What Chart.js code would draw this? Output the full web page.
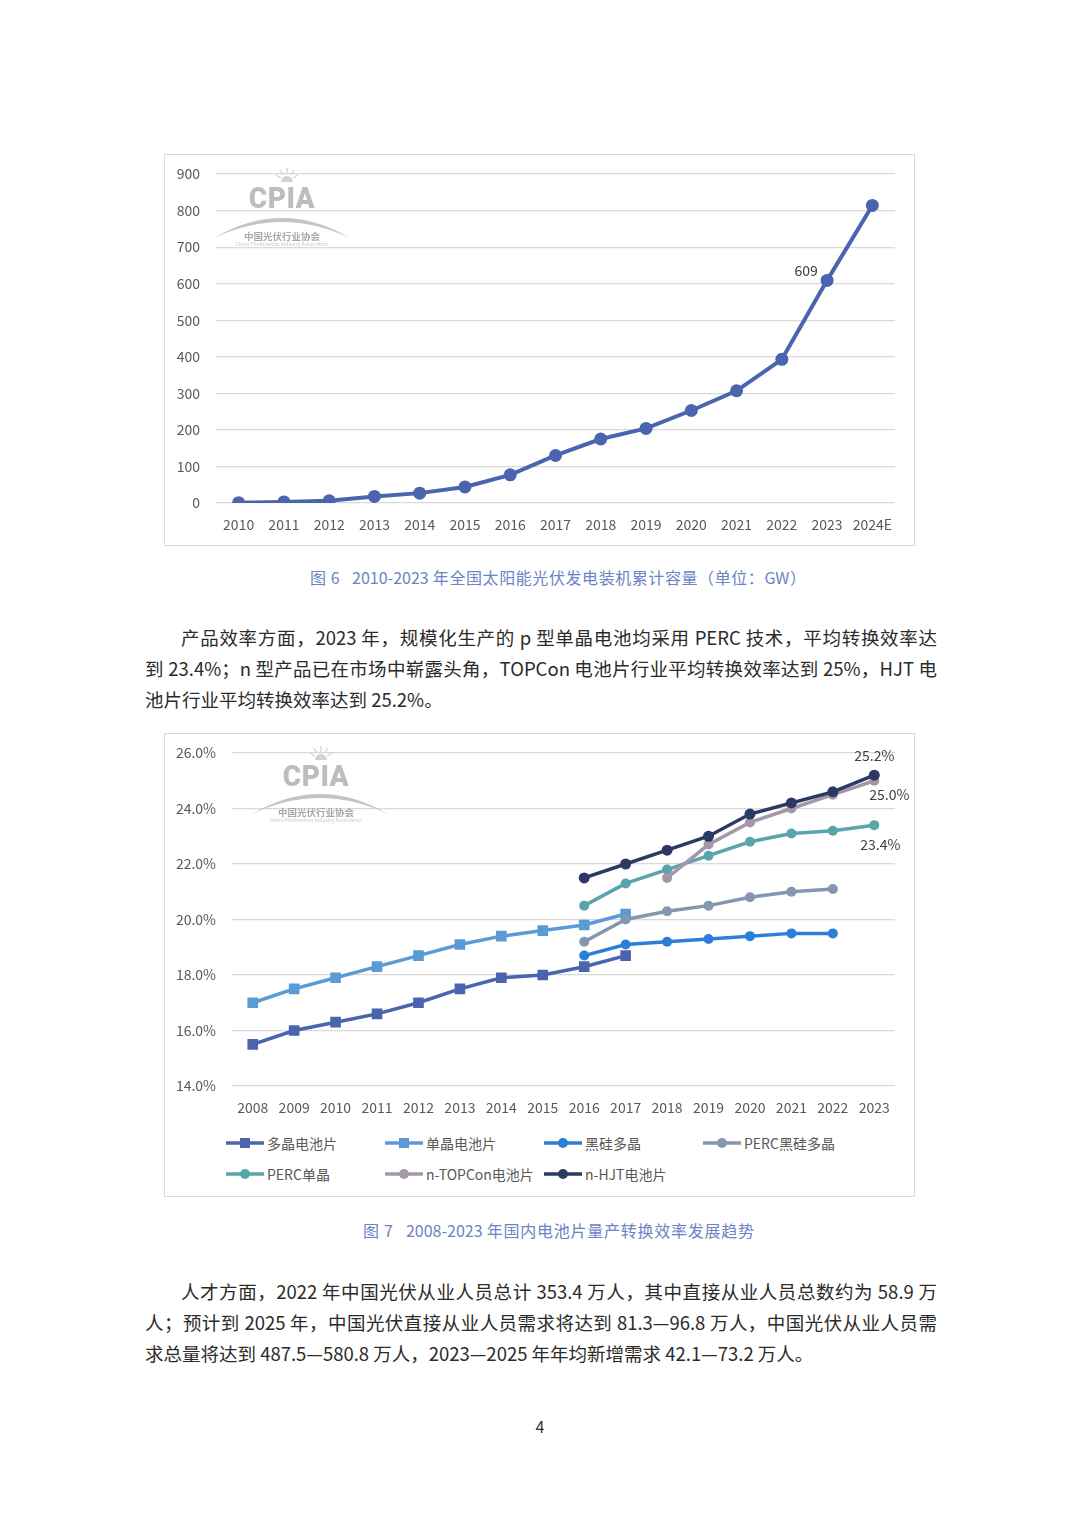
<!DOCTYPE html>
<html><head><meta charset="utf-8">
<script src="https://cdn.jsdelivr.net/npm/chart.js@4"></script>
<style>
body{margin:0;background:#fff;}
#page{position:relative;width:1080px;height:1528px;background:#fff;font-family:"Noto Sans CJK SC","Noto Sans",sans-serif;overflow:hidden}
.box{position:absolute;border:1px solid #d9d9d9;box-sizing:border-box}
.cv{position:absolute}
.cap{position:absolute;font-size:16px;color:#6a84c4;white-space:nowrap;line-height:24px;height:24px;text-align:justify;text-align-last:justify}
.line{position:absolute;font-size:18.5px;color:#2b2b2b;white-space:nowrap;line-height:31px;height:31px}
.j{text-align:justify;text-align-last:justify}
.wm{position:absolute;width:0;height:0}
.wm .t{position:absolute;left:-70px;width:140px;top:-17px;line-height:34px;text-align:center;font:900 28px Roboto,sans-serif;color:#bdbdbd;letter-spacing:0.5px;transform:scaleY(1.08)}
.wm .cn{position:absolute;left:-60px;width:120px;top:32px;line-height:12px;text-align:center;font-weight:bold;font-size:9.5px;color:#a8a8a8}
.wm .en{position:absolute;left:-60px;width:120px;top:43px;line-height:6px;text-align:center;font-size:5px;color:#c8c8c8}
.wm svg{position:absolute;overflow:visible}
#legend{position:absolute;left:226px;top:1127px;display:grid;grid-template-columns:159px 159px 159px 159px;grid-auto-rows:31px}
#legend .it{display:flex;align-items:center;font-size:14px;color:#595959;white-space:nowrap}
#legend svg{margin-right:3px;flex:none}
</style>
</head><body>
<div id="page">
  <div class="box" style="left:164px;top:154px;width:751px;height:392px"></div>
  <div class="cv" style="left:164px;top:154px;width:751px;height:392px"><canvas id="c1" width="751" height="392" style="width:751px;height:392px"></canvas></div>
  <div class="wm" style="left:282px;top:198px">
    <svg style="left:-6px;top:-30px" width="22" height="14" viewBox="0 0 22 14"><path d="M5 14 A6 6 0 0 1 17 14 Z" fill="#d2d2d2"/><g stroke="#d2d2d2" stroke-width="1.2"><line x1="11" y1="6" x2="11" y2="0"/><line x1="7" y1="7" x2="4" y2="2"/><line x1="15" y1="7" x2="18" y2="2"/><line x1="5" y1="10" x2="0" y2="7"/><line x1="17" y1="10" x2="22" y2="7"/></g></svg>
    <div class="t">CPIA</div>
    <svg style="left:-70px;top:14px" width="140" height="30" viewBox="0 0 140 30"><path d="M2 26 Q70 -14 138 26 Q70 -6 2 26 Z" fill="#c4c4c4"/></svg>
    <div class="cn">中国光伏行业协会</div>
    <div class="en">China Photovoltaic Industry Association</div>
  </div>
  <div class="cap" style="left:310px;top:565px;width:496px">图 6&nbsp;&nbsp;&nbsp;2010-2023 年全国太阳能光伏发电装机累计容量（单位：GW）</div>

  <div class="line j" style="left:181px;top:622px;width:756px">产品效率方面，2023 年，规模化生产的 p 型单晶电池均采用 PERC 技术，平均转换效率达</div>
  <div class="line j" style="left:145px;top:653px;width:792px">到 23.4%；n 型产品已在市场中崭露头角，TOPCon 电池片行业平均转换效率达到 25%，HJT 电</div>
  <div class="line" style="left:145px;top:684px">池片行业平均转换效率达到 25.2%。</div>

  <div class="box" style="left:164px;top:733px;width:751px;height:464px"></div>
  <div class="cv" style="left:164px;top:733px;width:751px;height:387px"><canvas id="c2" width="751" height="387" style="width:751px;height:387px"></canvas></div>
  <div class="wm" style="left:316px;top:776px">
    <svg style="left:-6px;top:-30px" width="22" height="14" viewBox="0 0 22 14"><path d="M5 14 A6 6 0 0 1 17 14 Z" fill="#d2d2d2"/><g stroke="#d2d2d2" stroke-width="1.2"><line x1="11" y1="6" x2="11" y2="0"/><line x1="7" y1="7" x2="4" y2="2"/><line x1="15" y1="7" x2="18" y2="2"/><line x1="5" y1="10" x2="0" y2="7"/><line x1="17" y1="10" x2="22" y2="7"/></g></svg>
    <div class="t">CPIA</div>
    <svg style="left:-66px;top:12px" width="140" height="30" viewBox="0 0 140 30"><path d="M2 26 Q70 -14 138 26 Q70 -6 2 26 Z" fill="#c4c4c4"/></svg>
    <div class="cn" style="top:30px">中国光伏行业协会</div>
    <div class="en" style="top:41px">China Photovoltaic Industry Association</div>
  </div>
  <div id="legend"></div>
  <div class="cap" style="left:363px;top:1218px;width:391px">图 7&nbsp;&nbsp;&nbsp;2008-2023 年国内电池片量产转换效率发展趋势</div>

  <div class="line j" style="left:181px;top:1276px;width:756px">人才方面，2022 年中国光伏从业人员总计 353.4 万人，其中直接从业人员总数约为 58.9 万</div>
  <div class="line j" style="left:145px;top:1307px;width:792px">人；预计到 2025 年，中国光伏直接从业人员需求将达到 81.3—96.8 万人，中国光伏从业人员需</div>
  <div class="line" style="left:145px;top:1338px">求总量将达到 487.5—580.8 万人，2023—2025 年年均新增需求 42.1—73.2 万人。</div>

  <div style="position:absolute;left:0;width:1080px;top:1414px;text-align:center;font-size:16px;line-height:24px;color:#333">4</div>
</div>
<script>
// ---------- data ----------
const years1 = ['2010','2011','2012','2013','2014','2015','2016','2017','2018','2019','2020','2021','2022','2023','2024E'];
const capacity = [1, 3, 6, 18, 27, 44, 77, 130, 175, 204, 253, 307, 393, 609, 814];
const capTicks = [0, 900, 100];

const years2 = ['2008','2009','2010','2011','2012','2013','2014','2015','2016','2017','2018','2019','2020','2021','2022','2023'];
const seriesNames = ['多晶电池片','单晶电池片','黑硅多晶','PERC黑硅多晶','PERC单晶','n-TOPCon电池片','n-HJT电池片'];
const multiSi   = [15.5, 16.0, 16.3, 16.6, 17.0, 17.5, 17.9, 18.0, 18.3, 18.7, null, null, null, null, null, null];
const monoSi    = [17.0, 17.5, 17.9, 18.3, 18.7, 19.1, 19.4, 19.6, 19.8, 20.2, null, null, null, null, null, null];
const blackSi   = [null, null, null, null, null, null, null, null, 18.7, 19.1, 19.2, 19.3, 19.4, 19.5, 19.5, null];
const percBlack = [null, null, null, null, null, null, null, null, 19.2, 20.0, 20.3, 20.5, 20.8, 21.0, 21.1, null];
const percMono  = [null, null, null, null, null, null, null, null, 20.5, 21.3, 21.8, 22.3, 22.8, 23.1, 23.2, 23.4];
const topcon    = [null, null, null, null, null, null, null, null, null, null, 21.5, 22.7, 23.5, 24.0, 24.5, 25.0];
const hjt       = [null, null, null, null, null, null, null, null, 21.5, 22.0, 22.5, 23.0, 23.8, 24.2, 24.6, 25.2];
const effTicks = [14, 26, 2];

// ---------- styles ----------
const colors2 = ['#4a64ad','#5b9bd5','#2b7fd8','#8496b0','#5aa4ac','#a597a8','#2c3a63'];
const styles2 = ['rect','rect','circle','circle','circle','circle','circle'];
const FONT = '"Noto Sans CJK SC","Noto Sans",sans-serif';

const labelPlugin = {
  id: 'ptLabels',
  afterDatasetsDraw(chart, args, opts) {
    const ctx = chart.ctx;
    (opts.items || []).forEach(it => {
      const el = chart.getDatasetMeta(it.ds).data[it.i];
      if (!el) return;
      ctx.save();
      ctx.font = '14px ' + FONT;
      ctx.fillStyle = '#404040';
      ctx.textAlign = 'center';
      ctx.textBaseline = 'middle';
      ctx.fillText(it.text, el.x + it.dx, el.y + it.dy);
      ctx.restore();
    });
  }
};

Chart.defaults.font.family = FONT;
Chart.defaults.color = '#595959';

function fixY(w) {
  return s => { s.width = w; s.paddingTop = 0; s.paddingBottom = 0; };
}

new Chart(document.getElementById('c1'), {
  type: 'line',
  data: { labels: years1, datasets: [{
    data: capacity, borderColor: '#4a64ad', backgroundColor: '#4a64ad',
    borderWidth: 4, pointRadius: 6.5, pointBorderWidth: 0, tension: 0
  }]},
  options: {
    responsive: false, animation: false,
    layout: { padding: { top: 20, right: 20, left: 0, bottom: 0 } },
    plugins: { legend: { display: false }, tooltip: { enabled: false },
      ptLabels: { items: [{ ds: 0, i: 13, text: String(capacity[13]), dx: -21, dy: -10 }] } },
    scales: {
      x: { offset: true, grid: { display: false, drawTicks: false }, border: { display: false },
           ticks: { padding: 13, font: { size: 14 }, color: '#595959', maxRotation: 0, autoSkip: false },
           afterFit: s => { s.height = 43; } },
      y: { min: capTicks[0], max: capTicks[1], ticks: { stepSize: capTicks[2], padding: 16, font: { size: 14 }, color: '#595959' },
           grid: { color: '#d9d9d9', lineWidth: 1.2, drawTicks: false }, border: { display: false },
           afterFit: fixY(52) }
    }
  },
  plugins: [labelPlugin]
});

const series2 = [multiSi, monoSi, blackSi, percBlack, percMono, topcon, hjt];
const chart2 = new Chart(document.getElementById('c2'), {
  type: 'line',
  data: { labels: years2, datasets: series2.map((d, i) => ({
    label: seriesNames[i], data: d, borderColor: colors2[i], backgroundColor: colors2[i],
    borderWidth: 3.5, pointStyle: styles2[i], pointRadius: styles2[i] === 'rect' ? 7.5 : (i === 6 ? 5.5 : 5),
    pointBorderWidth: 0, tension: 0, spanGaps: false, order: 10 - i
  }))},
  options: {
    responsive: false, animation: false,
    layout: { padding: { top: 20, right: 20, left: 0, bottom: 0 } },
    plugins: { legend: { display: false }, tooltip: { enabled: false },
      ptLabels: { items: [
        { ds: 6, i: 15, text: hjt[15].toFixed(1) + '%', dx: 0, dy: -20 },
        { ds: 5, i: 15, text: topcon[15].toFixed(1) + '%', dx: 15, dy: 14 },
        { ds: 4, i: 15, text: percMono[15].toFixed(1) + '%', dx: 6, dy: 20 }
      ] } },
    scales: {
      x: { offset: true, grid: { display: false, drawTicks: false }, border: { display: false },
           ticks: { padding: 13, font: { size: 14 }, color: '#595959', maxRotation: 0, autoSkip: false },
           afterFit: s => { s.height = 34; } },
      y: { min: effTicks[0], max: effTicks[1],
           ticks: { stepSize: effTicks[2], padding: 16, font: { size: 14 }, color: '#595959', callback: v => v.toFixed(1) + '%' },
           grid: { color: '#d9d9d9', lineWidth: 1.2, drawTicks: false }, border: { display: false },
           afterFit: fixY(68) }
    }
  },
  plugins: [labelPlugin]
});

// HTML legend built from chart datasets
const leg = document.getElementById('legend');
chart2.data.datasets.forEach(ds => {
  const it = document.createElement('div');
  it.className = 'it';
  const c = ds.borderColor;
  const mk = ds.pointStyle === 'rect'
    ? `<rect x="14" y="1" width="10" height="10" fill="${c}"/>`
    : `<circle cx="19" cy="6" r="5" fill="${c}"/>`;
  it.innerHTML = `<svg width="38" height="12" viewBox="0 0 38 12"><line x1="0" y1="6" x2="38" y2="6" stroke="${c}" stroke-width="3.5"/>${mk}</svg><span>${ds.label}</span>`;
  leg.appendChild(it);
});
</script>
</body></html>
